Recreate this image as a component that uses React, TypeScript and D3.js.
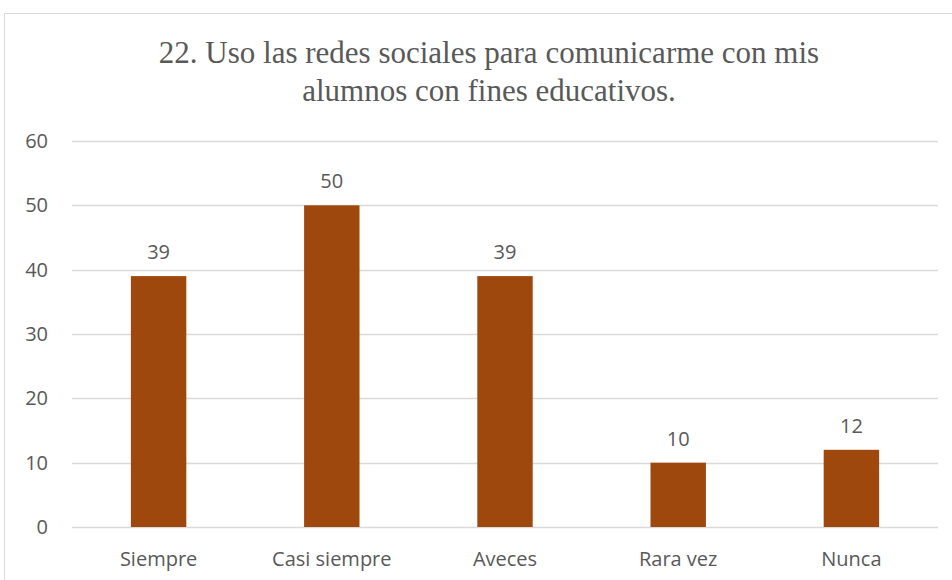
import React, { useEffect, useRef } from 'react';
import * as d3 from 'd3';

const categories = ['Siempre', 'Casi siempre', 'Aveces', 'Rara vez', 'Nunca'];
const values = [39, 50, 39, 10, 12];
const yTicks = [0, 10, 20, 30, 40, 50, 60];
const titleLines = ['22. Uso las redes sociales para comunicarme con mis', 'alumnos con fines educativos.'];

const App: React.FC = () => {
    const svgRef = useRef<SVGSVGElement>(null);

    useEffect(() => {
        if (!svgRef.current) return;
        const svg = d3.select(svgRef.current);
        svg.selectAll('*').remove();

        const width = 952;
        const height = 580;
        const left = 72, right = 938, top = 141, bottom = 527;
        const textColor = '#595959';
        const labelFont = '"Open Sans", Lato, sans-serif';

        svg.append('rect').attr('width', width).attr('height', height).attr('fill', '#ffffff');

        // chart frame (cut off at right and bottom)
        svg.append('path')
            .attr('d', `M4.5,${height} L4.5,13.5 L${width},13.5`)
            .attr('fill', 'none')
            .attr('stroke', '#d9d9d9')
            .attr('stroke-width', 1);

        const x = d3.scaleBand<string>()
            .domain(categories)
            .range([left, right])
            .paddingInner(0.68)
            .paddingOuter(0.34);

        const y = d3.scaleLinear().domain([0, 60]).range([bottom, top]);

        // gridlines
        svg.append('g').selectAll('line')
            .data(yTicks)
            .join('line')
            .attr('x1', left)
            .attr('x2', right)
            .attr('y1', d => Math.round(y(d)) + 0.5)
            .attr('y2', d => Math.round(y(d)) + 0.5)
            .attr('stroke', '#d9d9d9')
            .attr('stroke-width', 1.5);

        // y tick labels
        svg.append('g').selectAll('text')
            .data(yTicks)
            .join('text')
            .attr('x', 48)
            .attr('y', d => y(d))
            .attr('dy', '0.35em')
            .attr('text-anchor', 'end')
            .attr('fill', textColor)
            .style('font-family', labelFont)
            .style('font-size', '20px')
            .text(d => d);

        // bars
        svg.append('g').selectAll('rect')
            .data(values)
            .join('rect')
            .attr('x', (d, i) => x(categories[i])!)
            .attr('y', d => y(d))
            .attr('width', x.bandwidth())
            .attr('height', d => y(0) - y(d))
            .attr('fill', '#9e480e');

        // data labels
        svg.append('g').selectAll('text')
            .data(values)
            .join('text')
            .attr('x', (d, i) => x(categories[i])! + x.bandwidth() / 2)
            .attr('y', d => y(d) - 17)
            .attr('text-anchor', 'middle')
            .attr('fill', textColor)
            .style('font-family', labelFont)
            .style('font-size', '20px')
            .text(d => d);

        // category labels
        svg.append('g').selectAll('text')
            .data(categories)
            .join('text')
            .attr('x', d => x(d)! + x.bandwidth() / 2)
            .attr('y', 566)
            .attr('text-anchor', 'middle')
            .attr('fill', textColor)
            .style('font-family', labelFont)
            .style('font-size', '20px')
            .text(d => d);

        // title (no serif face available, sans sized to match width)
        svg.append('g').selectAll('text')
            .data(titleLines)
            .join('text')
            .attr('x', 489)
            .attr('y', (d, i) => 63 + i * 37.5)
            .attr('text-anchor', 'middle')
            .attr('fill', textColor)
            .attr('font-family', '"Times New Roman", "Liberation Serif", serif')
            .style('font-size', '31px')
            .text(d => d);
    }, []);

    return (
        <div style={{ position: 'absolute', left: 0, top: 0, width: 952, height: 580 }}>
            <svg ref={svgRef} width={952} height={580} style={{ display: 'block' }} />
        </div>
    );
};

export default App;
